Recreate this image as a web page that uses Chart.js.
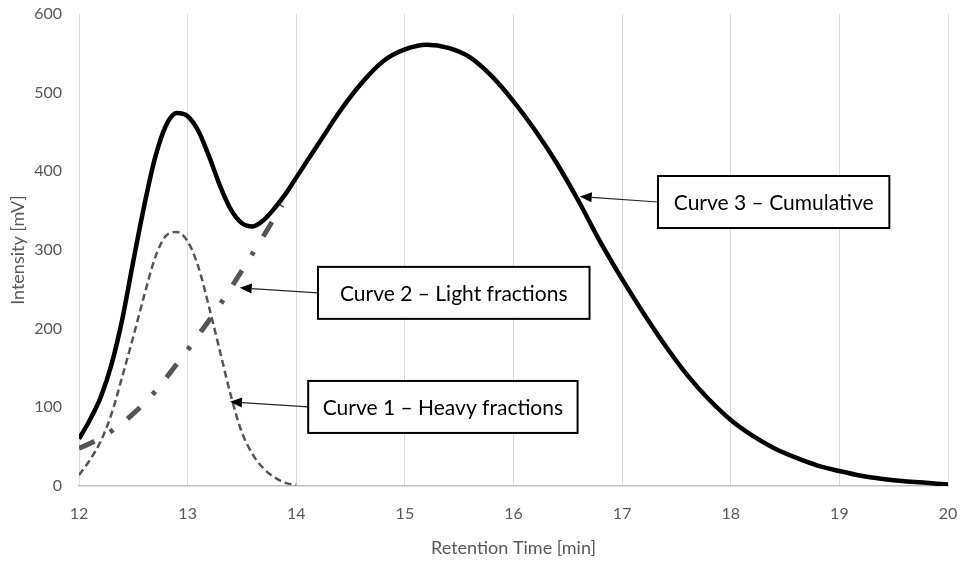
<!DOCTYPE html>
<html>
<head>
<meta charset="utf-8">
<script src="https://cdn.jsdelivr.net/npm/chart.js@4/dist/chart.umd.min.js"></script>
<style>
  html, body { margin: 0; padding: 0; background: #ffffff; }
  #wrap { width: 964px; height: 564px; }
</style>
</head>
<body>
<div id="wrap"><canvas id="c" width="964" height="564"></canvas></div>
<script>
// ---- data ----
const xTicks = [12, 13, 14, 15, 16, 17, 18, 19, 20];
const yTicks = [0, 100, 200, 300, 400, 500, 600];

const curve3X = [12.0, 12.1, 12.2, 12.3, 12.4, 12.5, 12.6, 12.7, 12.8, 12.9, 13.0, 13.1, 13.2, 13.3, 13.4, 13.5, 13.6, 13.7, 13.8, 13.9, 14.0, 14.2, 14.4, 14.6, 14.8, 15.0, 15.2, 15.4, 15.6, 15.8, 16.0, 16.2, 16.4, 16.6, 16.8, 17.0, 17.2, 17.4, 17.6, 17.8, 18.0, 18.2, 18.4, 18.6, 18.8, 19.0, 19.2, 19.4, 19.6, 19.8, 20.0];
const curve3Y = [60, 84, 113, 155, 213, 286, 356, 417, 458, 474, 470, 451, 418, 381, 351, 334, 330, 338, 353, 371, 392, 434, 476, 512, 540, 555, 561, 557, 545, 521, 489, 452, 410, 362, 310, 263, 219, 178, 141, 110, 84, 64, 48, 36, 26, 19, 13, 9, 6, 4, 2];

const curve1X = [12.0, 12.1, 12.2, 12.3, 12.4, 12.5, 12.6, 12.7, 12.8, 12.9, 13.0, 13.1, 13.2, 13.3, 13.4, 13.5, 13.6, 13.7, 13.8, 13.9, 14.0];
const curve1Y = [14, 33, 57, 92, 140, 190, 242, 290, 318, 323, 311, 278, 226, 170, 114, 68, 40, 22, 11, 4, 1];

const curve2X = [12.0, 12.1, 12.2, 12.3, 12.4, 12.5, 12.6, 12.7, 12.8, 12.9, 13.0, 13.1, 13.2, 13.3, 13.4, 13.5, 13.6, 13.7, 13.8, 13.87];
const curve2Y = [48, 54, 61, 70, 80, 92, 105, 120, 137, 155, 173, 192, 211, 231, 252, 274, 296, 318, 341, 357];

const seriesNames = ['Curve 1 – Heavy fractions', 'Curve 2 – Light fractions', 'Curve 3 – Cumulative'];

// callouts: text, arrow tip (data units), box left/right (data units), box centre y (data units)
const calloutText = ['Curve 3 – Cumulative', 'Curve 2 – Light fractions', 'Curve 1 – Heavy fractions'];
const calloutTipX = [16.61, 13.48, 13.39];
const calloutTipY = [368, 252, 107];
const calloutBoxX0 = [17.33, 14.20, 14.11];
const calloutBoxX1 = [19.46, 16.70, 16.59];
const calloutBoxY = [361, 245.5, 100.5];

function pts(xs, ys) { return xs.map((x, i) => ({ x: x, y: ys[i] })); }

const calloutPlugin = {
  id: 'callouts',
  afterDatasetsDraw(chart) {
    const ctx = chart.ctx;
    const xs = chart.scales.x, ys = chart.scales.y;
    const boxH = 52;
    ctx.save();
    for (let i = 0; i < calloutText.length; i++) {
      const x0 = xs.getPixelForValue(calloutBoxX0[i]);
      const x1 = xs.getPixelForValue(calloutBoxX1[i]);
      const cy = ys.getPixelForValue(calloutBoxY[i]);
      const tx = xs.getPixelForValue(calloutTipX[i]);
      const ty = ys.getPixelForValue(calloutTipY[i]);
      // arrow line
      const ang = Math.atan2(ty - cy, tx - x0);
      const headLen = 12, headW = 5;
      const bx = tx - headLen * Math.cos(ang), by = ty - headLen * Math.sin(ang);
      ctx.strokeStyle = '#262626';
      ctx.lineWidth = 1.2;
      ctx.beginPath();
      ctx.moveTo(x0, cy);
      ctx.lineTo(bx, by);
      ctx.stroke();
      ctx.fillStyle = '#000000';
      ctx.beginPath();
      ctx.moveTo(tx, ty);
      ctx.lineTo(bx + headW * Math.sin(ang), by - headW * Math.cos(ang));
      ctx.lineTo(bx - headW * Math.sin(ang), by + headW * Math.cos(ang));
      ctx.closePath();
      ctx.fill();
      // box
      ctx.fillStyle = '#ffffff';
      ctx.fillRect(x0, cy - boxH / 2, x1 - x0, boxH);
      ctx.strokeStyle = '#000000';
      ctx.lineWidth = 2;
      ctx.strokeRect(x0, cy - boxH / 2, x1 - x0, boxH);
      // text
      ctx.fillStyle = '#000000';
      ctx.font = '21px Lato';
      ctx.textAlign = 'center';
      ctx.textBaseline = 'middle';
      ctx.fillText(calloutText[i], (x0 + x1) / 2, cy + 1);
    }
    ctx.restore();
  }
};

function build() {
  Chart.defaults.font.family = 'Lato';
  new Chart(document.getElementById('c'), {
    type: 'line',
    data: {
      datasets: [
        {
          label: seriesNames[0],
          data: pts(curve1X, curve1Y),
          borderColor: '#555555',
          borderWidth: 2.5,
          borderDash: [7, 4],
          pointRadius: 0,
          cubicInterpolationMode: 'monotone',
          fill: false,
          order: 3
        },
        {
          label: seriesNames[1],
          data: pts(curve2X, curve2Y),
          borderColor: '#555555',
          borderWidth: 5,
          borderDash: [17, 18, 4, 18],
          borderCapStyle: 'butt',
          pointRadius: 0,
          cubicInterpolationMode: 'monotone',
          fill: false,
          order: 2
        },
        {
          label: seriesNames[2],
          data: pts(curve3X, curve3Y),
          borderColor: '#000000',
          borderWidth: 4.5,
          pointRadius: 0,
          cubicInterpolationMode: 'monotone',
          fill: false,
          order: 1
        }
      ]
    },
    options: {
      responsive: false,
      animation: false,
      events: [],
      layout: { padding: { top: 14, right: 16, left: 0, bottom: 0 } },
      plugins: { legend: { display: false }, tooltip: { enabled: false }, title: { display: false } },
      scales: {
        x: {
          type: 'linear',
          min: 12, max: 20,
          afterBuildTicks: (s) => { s.ticks = xTicks.map(v => ({ value: v })); },
          afterFit: (s) => { s.height = 78; s.paddingLeft = 0; s.paddingRight = 0; },
          grid: { display: true, color: '#d9d9d9', lineWidth: 1, drawTicks: false },
          border: { display: true, color: '#bfbfbf', width: 1.5 },
          ticks: { color: '#595959', font: { size: 16 }, padding: 18, maxRotation: 0 },
          title: { display: true, text: 'Retention Time [min]', color: '#595959', font: { size: 18 }, padding: { top: 4, bottom: 5 } }
        },
        y: {
          type: 'linear',
          min: 0, max: 600,
          afterBuildTicks: (s) => { s.ticks = yTicks.map(v => ({ value: v })); },
          afterFit: (s) => { s.width = 79; s.paddingTop = 0; s.paddingBottom = 0; },
          grid: { display: false, drawTicks: false },
          border: { display: false },
          ticks: { color: '#595959', font: { size: 16 }, padding: 17 },
          title: { display: true, text: 'Intensity [mV]', color: '#595959', font: { size: 18 }, padding: { top: 7, bottom: 0 } }
        }
      }
    },
    plugins: [calloutPlugin]
  });
}

if (document.fonts && document.fonts.load) {
  document.fonts.load('16px Lato').then(build, build);
} else {
  build();
}
</script>
</body>
</html>
